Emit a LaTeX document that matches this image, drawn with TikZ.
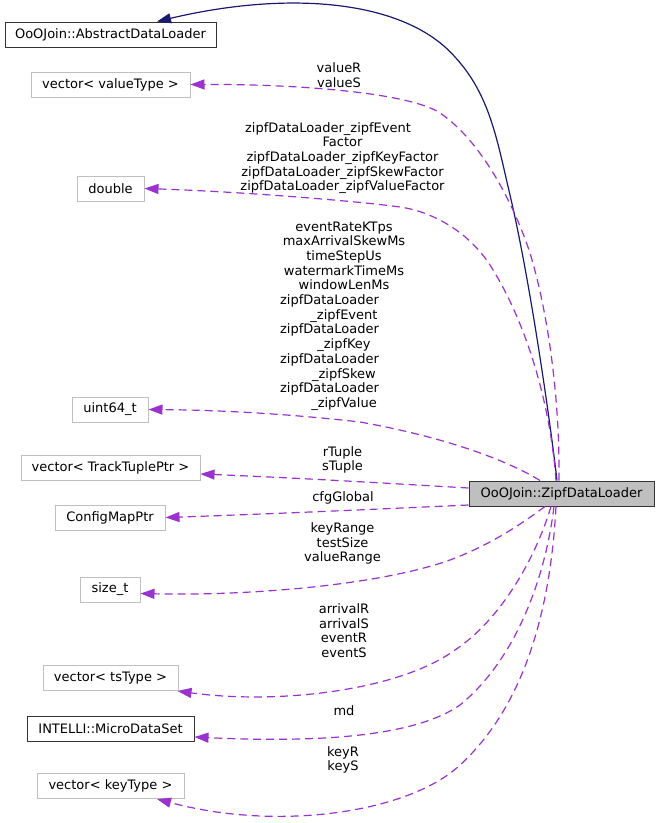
\documentclass[tikz,border=0pt]{standalone}
\usepackage{fontspec}
\setmainfont{DejaVu Sans}
\usetikzlibrary{arrows.meta,calc}
\definecolor{edgep}{HTML}{9A32CD}
\definecolor{edgeb}{HTML}{191970}
\definecolor{boxgray}{HTML}{BFBFBF}
\begin{document}
\begin{tikzpicture}[x=1pt,y=-1pt,
  every node/.style={font=\fontsize{13pt}{14.7pt}\selectfont},
  cls/.style={draw=boxgray, line width=1pt, inner sep=0pt, minimum height=25pt, fill=white},
  doc/.style={draw=black!80, line width=1pt, inner sep=0pt, minimum height=25pt, fill=white},
  root/.style={draw=black!80, line width=1pt, inner sep=0pt, minimum height=25pt, fill=boxgray},
  mem/.style={draw=edgep, line width=1.2pt, dash pattern=on 8pt off 5pt, -{Triangle[length=14pt,width=10pt,fill=edgep]}},
  inh/.style={draw=edgeb, line width=1.2pt, -{Triangle[length=14pt,width=10pt,fill=edgeb]}},
  lbl/.style={align=center, inner sep=0pt}
]
\useasboundingbox[fill=white] (0,0) rectangle (657,823);

% nodes
\node[doc, minimum width=211pt] (adl) at (110.5,34.5) {OoOJoin::AbstractDataLoader};
\node[cls, minimum width=159pt] (vvt) at (110.5,84.5) {vector< valueType >};
\node[cls, minimum width=67pt] (dbl) at (110.5,188.5) {double};
\node[cls, minimum width=76pt] (u64) at (110,409.5) {uint64\_t};
\node[cls, minimum width=179pt] (vtt) at (110.5,467.5) {vector< TrackTuplePtr >};
\node[cls, minimum width=110pt] (cmp) at (110,517.5) {ConfigMapPtr};
\node[cls, minimum width=60pt] (szt) at (110,589.5) {size\_t};
\node[cls, minimum width=135pt] (vts) at (110.5,678) {vector< tsType >};
\node[doc, minimum width=167pt] (mds) at (110.5,729) {INTELLI::MicroDataSet};
\node[cls, minimum width=147pt] (vkt) at (110.5,786) {vector< keyType >};
\node[root, minimum width=185pt] (zipf) at (561.5,493.5) {OoOJoin::ZipfDataLoader};

% inheritance
\draw[inh] ($(zipf.north)+(-4.5,0)$) .. controls (550,420) and (530,280) .. (510,195)
  .. controls (497,140) and (490,95) .. (455,57)
  .. controls (405,0) and (290,-10) .. ($(adl.north)+(46.5,0)$);

% members
\draw[mem] ($(zipf.north)+(-2.5,0)$) .. controls (560,400) and (548,310) .. (529,250)
  .. controls (512,200) and (480,140) .. (440,113)
  .. controls (410,93) and (300,84) .. (vvt.east);
\draw[mem] ($(zipf.north)+(-5.5,0)$) .. controls (550,400) and (525,320) .. (490,265)
  .. controls (470,234) and (435,212) .. (400,207)
  .. controls (365,202) and (250,192) .. (dbl.east);
\draw[mem] ($(zipf.north)+(-21.5,0)$) .. controls (510,462) and (450,438) .. (360,422)
  .. controls (290,414) and (220,410) .. (u64.east);
\draw[mem] ($(zipf.west)+(0,-5.5)$) .. controls (400,484) and (300,478) .. ($(vtt.east)+(0,6.5)$);
\draw[mem] ($(zipf.west)+(0,11.5)$) .. controls (380,509) and (270,514) .. (cmp.east);
\draw[mem] ($(zipf.south)+(-16.5,0)$) .. controls (520,525) and (490,545) .. (450,560)
  .. controls (380,585) and (250,596) .. ($(szt.east)+(0,4)$);
\draw[mem] ($(zipf.south)+(-10.5,0)$) .. controls (535,560) and (500,620) .. (455,650)
  .. controls (400,690) and (280,705) .. ($(vts.south east)+(-1,0)$);
\draw[mem] ($(zipf.south)+(-7.5,0)$) .. controls (545,580) and (515,660) .. (460,705)
  .. controls (410,740) and (300,742) .. ($(mds.east)+(0,8)$);
\draw[mem] ($(zipf.south)+(-5.5,0)$) .. controls (550,620) and (520,710) .. (460,765)
  .. controls (410,812) and (280,832) .. ($(vkt.south)+(46.5,0)$);

% labels
\node[lbl] (l1) at (339,75) {valueR\\valueS};
\node[lbl] (l2) at (342.5,158) {zipfDataLoader\_zipfEvent\rule{29pt}{0pt}\\Factor\\zipfDataLoader\_zipfKeyFactor\\zipfDataLoader\_zipfSkewFactor\\zipfDataLoader\_zipfValueFactor};
\node[lbl] (l3) at (344,316) {eventRateKTps\\maxArrivalSkewMs\\timeStepUs\\watermarkTimeMs\\windowLenMs\\zipfDataLoader\rule{29pt}{0pt}\\\_zipfEvent\\zipfDataLoader\rule{29pt}{0pt}\\\_zipfKey\\zipfDataLoader\rule{29pt}{0pt}\\\_zipfSkew\\zipfDataLoader\rule{29pt}{0pt}\\\_zipfValue};
\node[lbl] (l4) at (342.5,460) {rTuple\\sTuple};
\node[lbl] (l5) at (343,498) {cfgGlobal};
\node[lbl] (l6) at (342.5,543.5) {keyRange\\testSize\\valueRange};
\node[lbl] (l7) at (344,630.5) {arrivalR\\arrivalS\\eventR\\eventS};
\node[lbl] (l8) at (344,711) {md};
\node[lbl] (l9) at (343,760) {keyR\\keyS};
\end{tikzpicture}
\end{document}
